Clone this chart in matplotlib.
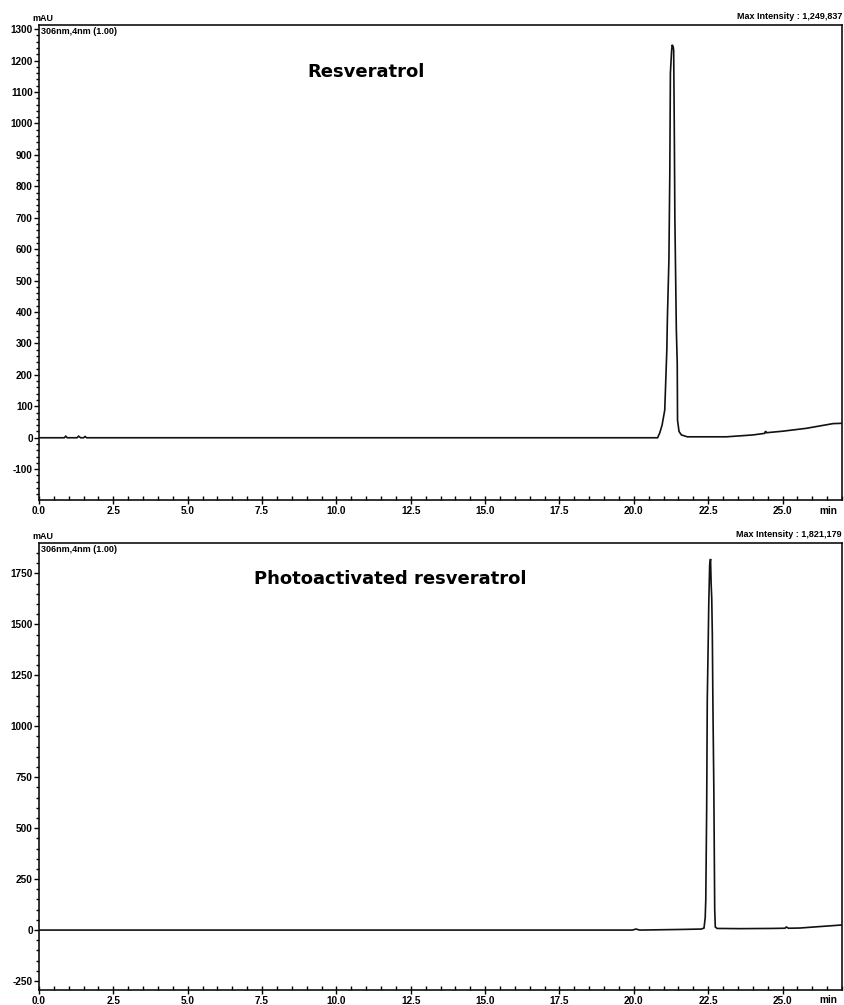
import matplotlib
matplotlib.use("Agg")
import matplotlib.pyplot as plt
from matplotlib.ticker import MultipleLocator, FixedLocator
from matplotlib.transforms import blended_transform_factory

# Chromatogram of resveratrol (306 nm), retention time in min, absorbance in mAU
resv_time = [0.00, 0.85, 0.90, 0.95, 1.28, 1.33, 1.40, 1.50, 1.55, 1.60,
             20.80, 20.87, 20.95, 21.04, 21.11, 21.13, 21.18, 21.21, 21.23,
             21.27, 21.29, 21.32, 21.34, 21.36, 21.38, 21.43, 21.46, 21.47,
             21.52, 21.60, 21.80, 23.11, 24.01, 24.40, 24.43, 24.46, 25.02,
             25.80, 26.70, 27.00]
resv_mau = [0, 0, 5, 0, 0, 5, 0, 0, 4, 0,
            0, 15, 40, 88, 279, 384, 565, 842, 1160,
            1230, 1250, 1245, 1233, 1000, 702, 342, 238, 56,
            20, 9, 3, 3, 9, 14, 21, 16, 21,
            30, 45, 46]

# Chromatogram of photoactivated resveratrol (306 nm)
photo_time = [0.00, 19.95, 20.07, 20.20, 21.55, 22.27, 22.36, 22.40, 22.42,
              22.45, 22.47, 22.50, 22.52, 22.55, 22.58, 22.60, 22.62, 22.64,
              22.66, 22.69, 22.71, 22.72, 22.74, 22.80, 23.56, 24.63, 25.08,
              25.13, 25.20, 25.58, 26.14, 27.00]
photo_mau = [0, 0, 5, 0, 3, 5, 10, 60, 150,
             600, 1128, 1400, 1600, 1790, 1821, 1700, 1629, 1450,
             1100, 700, 300, 100, 15, 8, 7, 8, 9,
             15, 9, 10, 16, 25]

x_ticks = [0.0, 2.5, 5.0, 7.5, 10.0, 12.5, 15.0, 17.5, 20.0, 22.5, 25.0]
x_ticklabels = ["0.0", "2.5", "5.0", "7.5", "10.0", "12.5", "15.0", "17.5",
                "20.0", "22.5", "25.0"]
resv_yticks = [1300, 1200, 1100, 1000, 900, 800, 700, 600, 500, 400, 300,
               200, 100, 0, -100]
photo_yticks = [1750, 1500, 1250, 1000, 750, 500, 250, 0, -250]

panels = [
    dict(time=resv_time, mau=resv_mau, yticks=resv_yticks, ylim=(-198, 1313),
         minor=20, title="Resveratrol", title_x=366, title_y=72,
         max_text="Max Intensity : 1,249,837",
         rect=[39 / 844, 1 - 500 / 1005, 803 / 844, 475 / 1005]),
    dict(time=photo_time, mau=photo_mau, yticks=photo_yticks, ylim=(-294, 1899),
         minor=50, title="Photoactivated resveratrol", title_x=390, title_y=579,
         max_text="Max Intensity : 1,821,179",
         rect=[39 / 844, 1 - 990 / 1005, 803 / 844, 447 / 1005]),
]

W, H = 844, 1005
fig = plt.figure(figsize=(W / 100, H / 100), dpi=100)
label_family = ["Liberation Sans", "DejaVu Sans"]

for p in panels:
    ax = fig.add_axes(p["rect"])
    ax.plot(p["time"], p["mau"], color="#111111", linewidth=1.2,
            solid_joinstyle="miter")
    ax.set_xlim(0, 27.0)
    ax.set_ylim(*p["ylim"])

    ax.xaxis.set_major_locator(FixedLocator(x_ticks))
    ax.set_xticklabels(x_ticklabels)
    ax.xaxis.set_minor_locator(MultipleLocator(0.5))
    ax.yaxis.set_major_locator(FixedLocator(p["yticks"]))
    ax.set_yticklabels([str(v) for v in p["yticks"]])
    ax.yaxis.set_minor_locator(MultipleLocator(p["minor"]))

    ax.tick_params(axis="x", which="major", direction="inout", length=6,
                   width=1.0, pad=1.5)
    ax.tick_params(axis="x", which="minor", direction="in", length=3, width=1.0)
    ax.tick_params(axis="y", which="major", direction="out", length=3.5,
                   width=1.0, pad=1.0)
    ax.tick_params(axis="y", which="minor", direction="out", length=2.2, width=1.0)
    for lbl in ax.get_xticklabels() + ax.get_yticklabels():
        lbl.set_family(label_family)
        lbl.set_fontsize(7.2)
        lbl.set_fontweight("bold")
    for s in ax.spines.values():
        s.set_linewidth(1.2)
        s.set_color("#111111")

    # axis unit labels and header texts
    ax.text(-0.008, 1.004, "mAU", transform=ax.transAxes, ha="left", va="bottom",
            fontsize=6.5, fontweight="bold", family=label_family)
    ax.text(0.002, 0.995, "306nm,4nm (1.00)", transform=ax.transAxes, ha="left",
            va="top", fontsize=6.5, fontweight="bold", family=label_family)
    ax.text(1.0, 1.008, p["max_text"], transform=ax.transAxes, ha="right",
            va="bottom", fontsize=6.5, fontweight="bold", family=label_family)
    trans = blended_transform_factory(ax.transData, ax.transAxes)
    ax.text(26.55, -0.012, "min", transform=trans, ha="center", va="top",
            fontsize=7.2, fontweight="bold", family=label_family)

    fig.text(p["title_x"] / W, 1 - p["title_y"] / H, p["title"], ha="center",
             va="center", fontsize=13, fontweight="bold", family="DejaVu Sans")

fig.savefig("out.png", dpi=100)
